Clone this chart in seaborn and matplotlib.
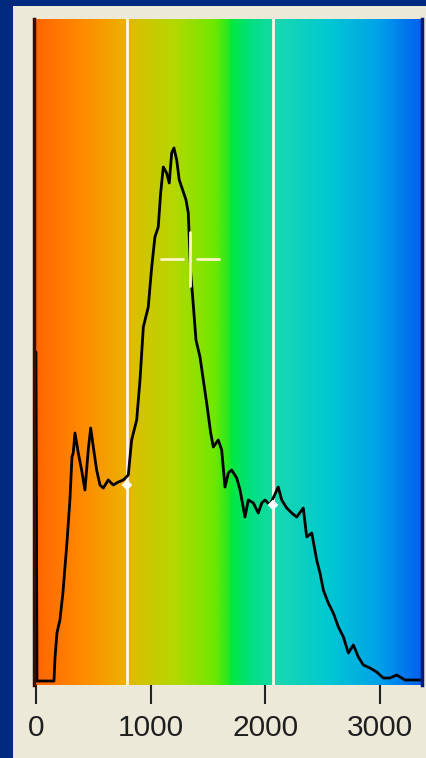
import matplotlib.pyplot as plt
import numpy as np
import pandas as pd
import seaborn as sns
from matplotlib.colors import LinearSegmentedColormap
from matplotlib.patches import Rectangle

# histogram trace (value, count)
values = [0, 9, 157, 166, 183, 209, 235, 253, 270, 296, 314, 325, 340, 369, 398, 427,
          456, 477, 500, 529, 558, 587, 630, 674, 718, 761, 805, 834, 878, 907, 936,
          979, 1009, 1037, 1066, 1087, 1110, 1139, 1162, 1183, 1203, 1227, 1249, 1279,
          1308, 1328, 1337, 1349, 1366, 1395, 1430, 1459, 1493, 1523, 1546, 1589, 1619,
          1648, 1677, 1706, 1750, 1779, 1822, 1851, 1895, 1938, 1968, 1997, 2040, 2112,
          2142, 2186, 2229, 2273, 2330, 2360, 2404, 2447, 2476, 2505, 2548, 2592, 2636,
          2680, 2723, 2767, 2810, 2854, 2912, 2970, 3028, 3086, 3145, 3217, 3348]
counts = [331, 2, 2, 25, 50, 63, 90, 116, 140, 183, 226, 230, 250, 230, 213, 193,
          233, 255, 236, 213, 198, 195, 203, 198, 201, 203, 208, 243, 263, 303, 356,
          376, 416, 446, 456, 490, 516, 510, 500, 530, 535, 523, 503, 493,
          483, 470, 443, 410, 386, 343, 326, 303, 276, 250, 236, 243, 233,
          196, 210, 213, 205, 193, 166, 183, 180, 170, 180, 183, 178, 196,
          183, 175, 170, 166, 175, 146, 150, 123, 110, 93, 80, 70, 56,
          46, 30, 38, 26, 18, 15, 11, 5, 5, 8, 3, 3]

thresholds = [793, 2066]
threshold_counts = [198, 178]
cursor_x, cursor_y = 1343, 424
cursor_dx, cursor_dy, cursor_gap = 250, 27, 60

xticks = [0, 1000, 2000, 3000]
xlim = (-17, 3365)
ylim = (-2, 664)

# spectrum behind the plot, stops as fraction of the x range
spec_pos = [0.0, 0.12, 0.235, 0.26, 0.36, 0.465, 0.50, 0.51, 0.555, 0.63, 0.76, 0.89, 1.0]
spec_col = ['#ff6400', '#ff8a00', '#ecb000', '#d8c000', '#b4d800', '#70e800', '#28e820',
            '#00e840', '#00e07c', '#18d8b0', '#00c8d2', '#00a2e8', '#0060f0']

df = pd.DataFrame({'value': values, 'count': counts})

sns.set_style('white')
plt.rcParams['font.family'] = ['Liberation Sans Narrow', 'DejaVu Sans Condensed',
                               'Liberation Sans', 'DejaVu Sans']

fig = plt.figure(figsize=(4.27, 7.58), dpi=100, facecolor='#012a7e')
fig.patches.append(Rectangle((13 / 427, 0), 1, 1 - 6 / 758, transform=fig.transFigure,
                             facecolor='#ece9d8', edgecolor='none', zorder=-10))
ax = fig.add_axes([34 / 427, 1 - 685 / 758, (422 - 34) / 427, (685 - 19) / 758])

cmap = LinearSegmentedColormap.from_list('spec', list(zip(spec_pos, spec_col)))
ax.imshow(np.linspace(0, 1, 400)[None, :], cmap=cmap, aspect='auto',
          extent=(xlim[0], xlim[1], ylim[0], ylim[1]), zorder=0)

for t in thresholds:
    ax.axvline(t, color='#fffbe8', lw=2, zorder=1)

sns.lineplot(data=df, x='value', y='count', estimator=None, sort=False,
             color='black', lw=2, ax=ax, zorder=2)

ax.scatter(thresholds, threshold_counts, marker='D', s=30, color='white',
           edgecolor='none', zorder=3)

# cursor cross
cross_kw = dict(color='#fff6c8', lw=2, zorder=3)
ax.plot([cursor_x - cursor_dx, cursor_x - cursor_gap], [cursor_y, cursor_y], **cross_kw)
ax.plot([cursor_x + cursor_gap, cursor_x + cursor_dx], [cursor_y, cursor_y], **cross_kw)
ax.plot([cursor_x, cursor_x], [cursor_y - cursor_dy, cursor_y + cursor_dy], **cross_kw)

ax.set_xlim(*xlim)
ax.set_ylim(*ylim)
ax.set_xticks(xticks)
ax.set_xticklabels([str(t) for t in xticks])
ax.set_yticks([])
ax.set_xlabel('')
ax.set_ylabel('')
ax.tick_params(axis='x', direction='out', length=14, width=1.5, color='#222222',
               pad=7, labelsize=21.5, labelcolor='#1e1e1e', bottom=True)

for side in ['top', 'bottom']:
    ax.spines[side].set_visible(False)
ax.spines['left'].set_color('#3a0c00')
ax.spines['left'].set_linewidth(2.5)
ax.spines['right'].set_color('#001a78')
ax.spines['right'].set_linewidth(2.5)

fig.savefig('out.png', dpi=100, facecolor=fig.get_facecolor())
